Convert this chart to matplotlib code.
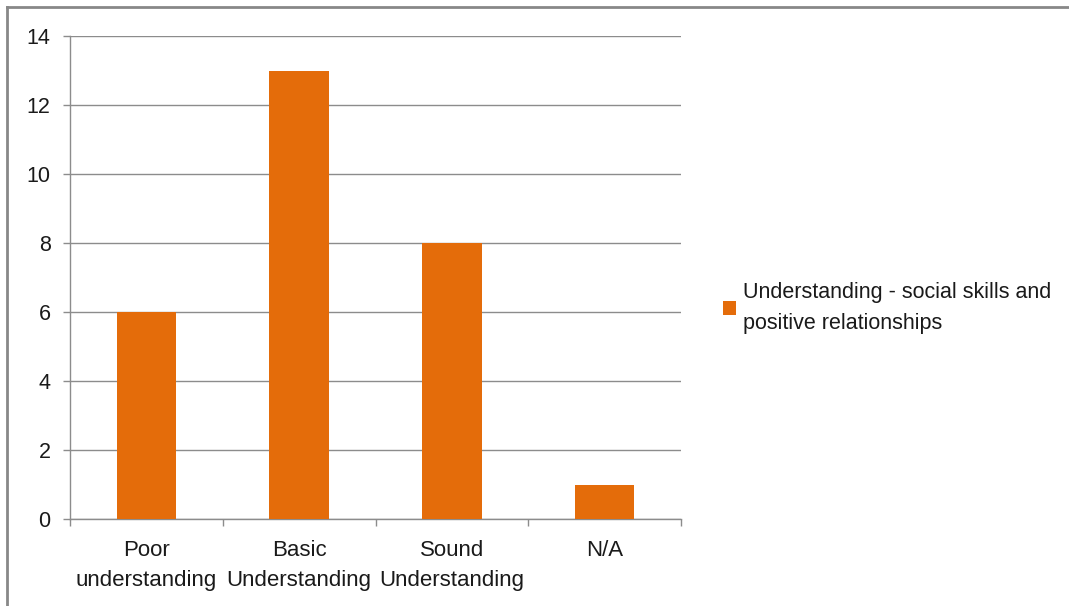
import matplotlib.pyplot as plt
from matplotlib.lines import Line2D

# Chart data
categories = ["Poor\nunderstanding", "Basic\nUnderstanding", "Sound\nUnderstanding", "N/A"]
counts = [6, 13, 8, 1]
series_name = "Understanding - social skills and\npositive relationships"
y_ticks = [0, 2, 4, 6, 8, 10, 12, 14]

bar_color = "#E46C0A"
grid_color = "#8C8C8C"
text_color = "#1A1A1A"

plt.rcParams['font.family'] = ['Liberation Sans', 'DejaVu Sans']

fig = plt.figure(figsize=(10.69, 6.06), dpi=100)
W, H = 1069, 606
# axes placed in pixel terms: left 70, right 681, top 36, bottom 519
ax = fig.add_axes([70 / W, 1 - 519 / H, (681 - 70) / W, (519 - 36) / H])

x = range(len(categories))
ax.bar(x, counts, width=0.39, color=bar_color, label=series_name, zorder=3)

ax.set_xlim(-0.5, len(categories) - 0.5)
ax.set_ylim(0, 14)
ax.set_yticks(y_ticks)
ax.set_yticklabels([str(v) for v in y_ticks], fontsize=15.5, color=text_color)
ax.set_xticks(list(x))
ax.set_xticklabels(categories, fontsize=16, color=text_color, linespacing=1.6)

# category boundary ticks on x axis
ax.set_xticks([i - 0.5 for i in range(len(categories) + 1)], minor=True)
ax.tick_params(axis='x', which='major', length=0, pad=15)
ax.tick_params(axis='x', which='minor', length=5, color=grid_color, width=1)
ax.tick_params(axis='y', length=5, color=grid_color, width=1, pad=9)

ax.yaxis.grid(True, color=grid_color, linewidth=1, zorder=0)
for side in ['top', 'right']:
    ax.spines[side].set_visible(False)
for side in ['left', 'bottom']:
    ax.spines[side].set_color(grid_color)
    ax.spines[side].set_linewidth(1)

leg = fig.legend(loc='center left', bbox_to_anchor=(723 / W, 1 - 308 / H),
                 frameon=False, fontsize=15.5, borderpad=0, borderaxespad=0,
                 handlelength=0.62, handleheight=0.62,
                 handletextpad=0.3, labelcolor=text_color)
for t in leg.get_texts():
    t.set_linespacing(1.6)

# outer frame: only top and left edges visible in the crop
fig.add_artist(Line2D([7 / W, 1], [1 - 7 / H, 1 - 7 / H], color="#888888", linewidth=2))
fig.add_artist(Line2D([7 / W, 7 / W], [0, 1 - 7 / H], color="#888888", linewidth=2))

fig.savefig("out.png", dpi=100)
